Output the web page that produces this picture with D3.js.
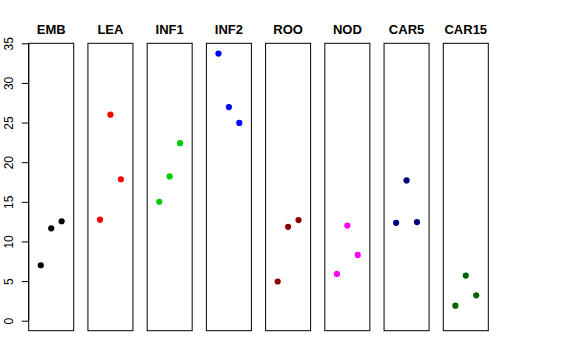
<!DOCTYPE html>
<html>
<head>
<meta charset="utf-8">
<script src="https://cdn.jsdelivr.net/npm/d3@7"></script>
<style>
  html, body { margin: 0; padding: 0; background: #fff; }
  svg { display: block; }
  text { font-family: "Liberation Sans", Arial, Helvetica, sans-serif; }
</style>
</head>
<body>
<svg id="chart" width="576" height="360"></svg>
<script>
const categories = ["EMB", "LEA", "INF1", "INF2", "ROO", "NOD", "CAR5", "CAR15"];
const colors = ["#000000", "#FF0000", "#00CD00", "#0000FF", "#8B0000", "#FF00FF", "#000080", "#006400"];
const positions = [1, 2, 3];
const EMB = [7.0, 11.65, 12.55];
const LEA = [12.75, 26.0, 17.85];
const INF1 = [15.0, 18.2, 22.4];
const INF2 = [33.7, 26.95, 24.95];
const ROO = [4.95, 11.85, 12.7];
const NOD = [5.9, 12.0, 8.3];
const CAR5 = [12.35, 17.7, 12.45];
const CAR15 = [1.9, 5.7, 3.2];
const series = [EMB, LEA, INF1, INF2, ROO, NOD, CAR5, CAR15];
const yTicks = [0, 5, 10, 15, 20, 25, 30, 35];

(function () {
const svg = d3.select("#chart");
const plotTop = 43.3, plotBottom = 330.7;

const y = d3.scaleLinear().domain([-1.26, 35]).range([plotBottom, plotTop]);
const band = d3.scaleBand().domain(categories).range([28.7, 488.3]).paddingInner(0.24).paddingOuter(0);

// Y axis
const yAxis = d3.axisLeft(y).tickValues(yTicks).tickSize(7).tickSizeOuter(0);
const gAxis = svg.append("g").attr("transform", `translate(${band(categories[0])},0)`).call(yAxis);
gAxis.select(".domain").attr("d", `M0,${y(0)}V${y(35)}`).attr("stroke", "#000");
gAxis.selectAll(".tick line").attr("stroke", "#000");
gAxis.selectAll(".tick text")
  .attr("font-size", 12)
  .attr("fill", "#000")
  .attr("text-anchor", "middle")
  .attr("x", null).attr("dy", null)
  .attr("transform", "translate(-16,0) rotate(-90)")
  .attr("y", 0);

categories.forEach((cat, i) => {
  const left = band(cat);
  const w = band.bandwidth();
  const x = d3.scaleLinear().domain([-0.16, 4.16]).range([left, left + w]);
  const g = svg.append("g");
  g.append("rect")
    .attr("x", left).attr("y", plotTop)
    .attr("width", w).attr("height", plotBottom - plotTop)
    .attr("fill", "none").attr("stroke", "#000").attr("stroke-width", 1);
  g.append("text")
    .attr("x", left + w / 2).attr("y", 33.5)
    .attr("text-anchor", "middle")
    .attr("font-size", 13).attr("font-weight", "bold")
    .attr("fill", "#000")
    .text(cat);
  g.selectAll("circle").data(series[i]).join("circle")
    .attr("cx", (d, j) => x(positions[j]))
    .attr("cy", d => y(d))
    .attr("r", 3.1)
    .attr("fill", colors[i]);
});
})();
</script>
</body>
</html>
